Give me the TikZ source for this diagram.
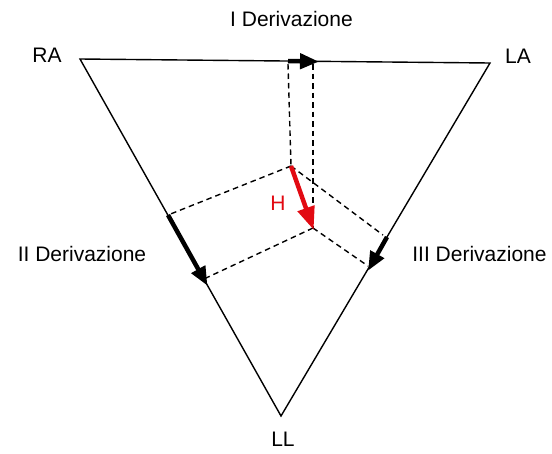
\documentclass[tikz,border=0pt]{standalone}
\usepackage{fontspec}
\setmainfont{Liberation Sans}
\usetikzlibrary{arrows.meta}
\definecolor{hred}{RGB}{226,10,18}
\tikzset{
  side/.style={line width=1.4pt, line cap=round},
  proj/.style={line width=1.4pt, dash pattern=on 5.5pt off 4pt},
  lead/.style={line width=4.5pt, -{Triangle[length=19pt,width=15pt]}, shorten >=-2pt},
  hvec/.style={line width=4.5pt, hred, -{Triangle[length=23pt,width=17pt]}, shorten >=-2pt},
  lbl/.style={font=\fontsize{21}{24}\selectfont, inner sep=0pt},
}
\begin{document}
\begin{tikzpicture}[x=1pt,y=-1pt]
\useasboundingbox (0,0) rectangle (552,453);
% vertices
\coordinate (RA) at (80,59);
\coordinate (LA) at (490,63);
\coordinate (LL) at (281,416);
% vector H
\coordinate (H0) at (291,166);
\coordinate (H1) at (313,228);
% projection ends
\coordinate (T0) at (288,61);
\coordinate (T1) at (313,61.5);
\coordinate (L0) at (168,215);
\coordinate (L1) at (206.5,284);
\coordinate (L1d) at (206,278);
\coordinate (R0) at (387,237);
\coordinate (R1) at (369,269);
\coordinate (R0d) at (383,235);
\coordinate (R1d) at (368,266);
% triangle
\draw[side] (RA) -- (LA) -- (LL) -- cycle;
% projection lines
\draw[proj] (T0 |- 0,64) -- (H0);
\draw[proj] (T1 |- 0,64) -- (H1);
\draw[proj] (H0) -- (L0);
\draw[proj] (H1) -- (L1d);
\draw[proj] (H0) -- (R0d);
\draw[proj] (H1) -- (R1d);
% lead vectors
\draw[lead] (T0) -- (317,61.6);
\draw[lead] (L0) -- (L1);
\draw[lead] (R0) -- (R1);
\draw[hvec] (H0) -- (H1);
% labels
\node[lbl] (tI) at (291.5,19) {I Derivazione};
\node[lbl] (tII) at (82,254) {II Derivazione};
\node[lbl] (tIII) at (479.5,254) {III Derivazione};
\node[lbl] (tRA) at (47,55) {RA};
\node[lbl] (tLA) at (518,56) {LA};
\node[lbl] (tLL) at (283,439.5) {LL};
\node[lbl, text=hred] (tH) at (278,203.5) {H};
\end{tikzpicture}
\end{document}
